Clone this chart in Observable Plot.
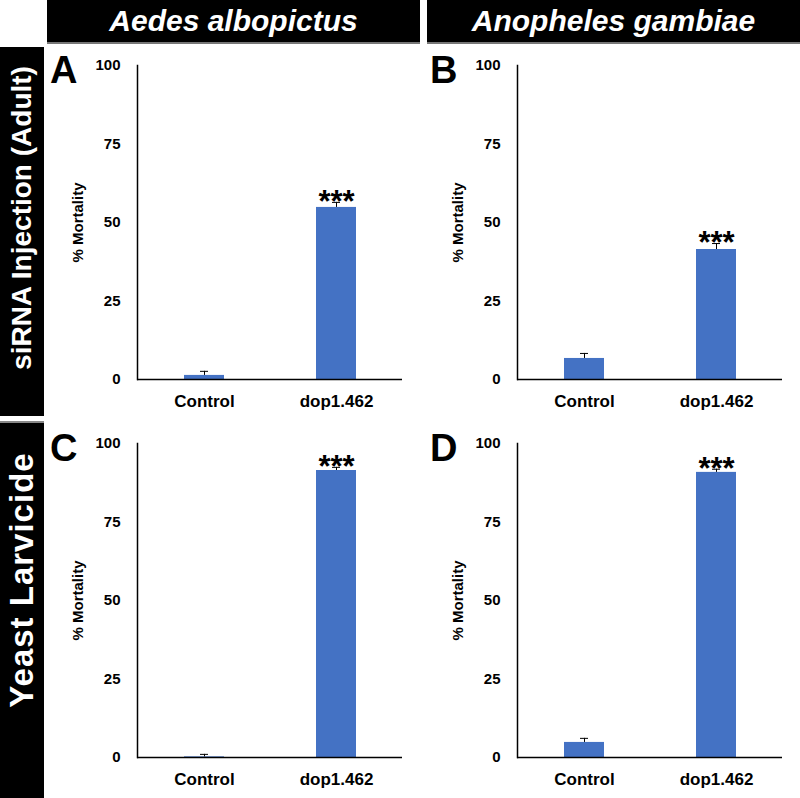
<!DOCTYPE html>
<html><head><meta charset="utf-8">
<script src="https://cdn.jsdelivr.net/npm/d3@7"></script>
<script src="https://cdn.jsdelivr.net/npm/@observablehq/plot@0.6"></script>
<style>
body{margin:0;background:#fff;font-family:Arial,"Liberation Sans",sans-serif;}
#fig{position:relative;width:800px;height:798px;overflow:hidden;background:#fff;}
.blk{position:absolute;background:#000;color:#fff;font-weight:bold;box-sizing:border-box;}
.hdr{display:flex;align-items:center;justify-content:center;font-style:italic;font-size:30px;border-bottom:2px solid #777;}
.side{border-top:2px solid #888;}
.rot{position:absolute;white-space:nowrap;transform:translate(-50%,-50%) rotate(-90deg);color:#fff;font-weight:bold;}
.panel{position:absolute;}
.letter{position:absolute;font-weight:bold;font-size:38px;line-height:1;color:#000;}
</style></head>
<body><div id="fig"></div>
<script>
const categories = ["Control", "dop1.462"];
const yTicks = [0, 25, 50, 75, 100];
const species = ["Aedes albopictus", "Anopheles gambiae"];
const rows = ["siRNA Injection (Adult)", "Yeast Larvicide"];
const panelLetters = ["A", "B", "C", "D"];
const meanA = [1.3, 54.8];
const errA = [1.3, 1.6];
const meanB = [6.7, 41.4];
const errB = [1.6, 1.9];
const meanC = [0.2, 91.4];
const errC = [0.8, 1.0];
const meanD = [4.8, 90.8];
const errD = [1.3, 1.0];
const sig = ["", "***"];

const fig = document.getElementById("fig");
function add(cls, style, html) {
  const d = document.createElement("div");
  d.className = cls; Object.assign(d.style, style);
  if (html != null) d.innerHTML = html;
  fig.appendChild(d); return d;
}
// column headers
add("blk hdr", {left:"47px", top:"0px", width:"373px", height:"44px"}, species[0]);
add("blk hdr", {left:"427px", top:"0px", width:"373px", height:"44px"}, species[1]);
// row labels
add("blk side", {left:"0px", top:"47px", width:"44px", height:"369px", borderTop:"none"});
add("blk side", {left:"0px", top:"421px", width:"44px", height:"377px"});
add("rot", {left:"22px", top:"218px", fontSize:"28px"}, rows[0]);
add("rot", {left:"22px", top:"580px", fontSize:"33px", letterSpacing:"1px"}, rows[1]);

function panel(means, errs) {
  const data = categories.map((c, i) => ({cat: c, mean: means[i], top: means[i] + errs[i], sig: sig[i]}));
  return Plot.plot({
    width: 373, height: 370,
    marginLeft: 90, marginRight: 18, marginTop: 18, marginBottom: 38,
    style: {fontFamily: "Arial, 'Liberation Sans', sans-serif", fontSize: "15px", fontWeight: "bold", color: "#000", background: "transparent", overflow: "visible"},
    x: {domain: categories, padding: 0, label: null},
    y: {domain: [0, 100], label: null},
    marks: [
      Plot.barY(data, {x: "cat", y: "mean", fill: "#4472C4", insetLeft: 46, insetRight: 46}),
      Plot.ruleX(data, {x: "cat", y1: "mean", y2: "top", stroke: "#000", strokeWidth: 1}),
      Plot.tickY(data, {x: "cat", y: "top", stroke: "#000", strokeWidth: 1, insetLeft: 62, insetRight: 62}),
      Plot.text(data, {x: "cat", y: "top", text: "sig", fontSize: 31, fontWeight: "bold", dy: 0}),
      Plot.axisY({ticks: yTicks, tickSize: 0, tickPadding: 17, fontSize: 15, fontWeight: "bold", label: null}),
      Plot.axisX({tickSize: 0, tickPadding: 15, fontSize: 17, fontWeight: "bold", label: null}),
      Plot.frame({anchor: "left", stroke: "#000", strokeWidth: 1.5}),
      Plot.ruleY([0], {stroke: "#000", strokeWidth: 1.5}),
      Plot.text(["% Mortality"], {frameAnchor: "left", textAnchor: "middle", rotate: -90, dx: -59, fontSize: 15, fontWeight: "bold"})
    ]
  });
}
const specs = [
  {m: meanA, e: errA, left: 47, top: 47},
  {m: meanB, e: errB, left: 427, top: 47},
  {m: meanC, e: errC, left: 47, top: 425},
  {m: meanD, e: errD, left: 427, top: 425}
];
specs.forEach((s, i) => {
  const p = panel(s.m, s.e);
  const w = add("panel", {left: s.left + "px", top: s.top + "px"});
  w.appendChild(p);
  add("letter", {left: (s.left + 3) + "px", top: (s.top + 4) + "px"}, panelLetters[i]);
});
</script></body></html>
